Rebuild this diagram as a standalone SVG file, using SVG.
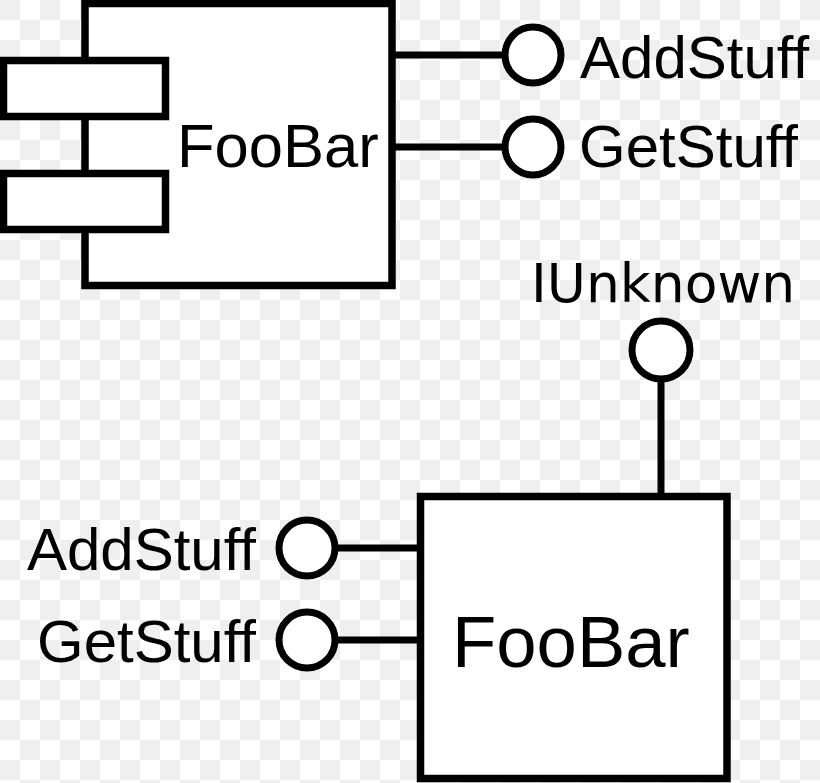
<svg xmlns="http://www.w3.org/2000/svg" width="820" height="783" viewBox="0 0 820 783">
<style>
.shape{fill:#ffffff;stroke:#000000;stroke-width:7.5}
.ball{fill:#ffffff;stroke:#000000;stroke-width:7}
.wire{stroke:#000000;stroke-width:7;fill:none}
.lbl{font-family:"Liberation Sans",Arial,sans-serif;fill:#000000;font-size:60px}
.lbl2{font-family:"DejaVu Sans",sans-serif;fill:#000000;font-size:53.5px}
</style>
<defs>
<pattern id="checker" x="0" y="0" width="40" height="40" patternUnits="userSpaceOnUse">
<rect x="0" y="0" width="40" height="40" fill="#ffffff"/>
<rect x="0" y="0" width="20" height="20" fill="#efefef"/>
<rect x="20" y="20" width="20" height="20" fill="#efefef"/>
</pattern>
</defs>
<rect x="0" y="0" width="820" height="783" fill="url(#checker)"/>
<g id="connectors">
<line class="wire" x1="392" y1="55" x2="505" y2="55"/>
<line class="wire" x1="392" y1="147" x2="505" y2="147"/>
<line class="wire" x1="661" y1="380" x2="661" y2="497"/>
<line class="wire" x1="335" y1="548" x2="420" y2="548"/>
<line class="wire" x1="335" y1="640" x2="420" y2="640"/>
</g>
<g id="component-foobar">
<rect class="shape" x="85" y="3.5" width="307" height="282"/>
<rect class="shape" x="3.5" y="60.5" width="162" height="56"/>
<rect class="shape" x="3.5" y="173.5" width="162" height="56"/>
<text class="lbl" x="177" y="167" style="font-size:61.5px">FooBar</text>
</g>
<g id="iface-addstuff-top">
<circle class="ball" cx="533" cy="55" r="28"/>
<text class="lbl" x="580" y="78">AddStuff</text>
</g>
<g id="iface-getstuff-top">
<circle class="ball" cx="533" cy="147" r="28"/>
<text class="lbl" x="579" y="167">GetStuff</text>
</g>
<g id="class-foobar">
<rect class="shape" x="420.5" y="496.5" width="306.5" height="282"/>
<text class="lbl" x="452" y="667" style="font-size:72.5px">FooBar</text>
</g>
<g id="iface-iunknown">
<circle class="ball" cx="661" cy="350" r="29"/>
<text class="lbl2" x="531" y="302">IUnknown</text>
</g>
<g id="iface-addstuff-bottom">
<circle class="ball" cx="307" cy="548" r="28"/>
<text class="lbl" x="256" y="570" text-anchor="end">AddStuff</text>
</g>
<g id="iface-getstuff-bottom">
<circle class="ball" cx="307" cy="640" r="28"/>
<text class="lbl" x="256" y="662" text-anchor="end">GetStuff</text>
</g>
</svg>
